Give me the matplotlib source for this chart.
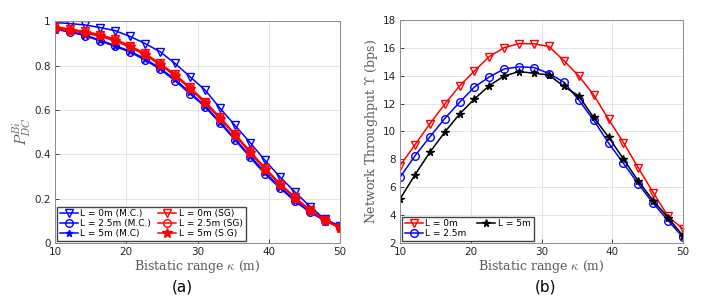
import numpy as np
import matplotlib
matplotlib.use("Agg")
import matplotlib.pyplot as plt
from matplotlib.ticker import FormatStrFormatter

plt.rcParams['mathtext.fontset'] = 'cm'

kappa = np.linspace(10, 50, 20)

# (a) detection probability
pdc_0_mc = [0.995, 0.99, 0.984, 0.972, 0.958, 0.932, 0.900, 0.863, 0.810, 0.750,
            0.690, 0.608, 0.530, 0.453, 0.372, 0.297, 0.229, 0.164, 0.106, 0.077]
pdc_25_mc = [0.965, 0.952, 0.935, 0.912, 0.887, 0.861, 0.826, 0.784, 0.732, 0.673,
             0.614, 0.540, 0.465, 0.386, 0.310, 0.247, 0.187, 0.138, 0.100, 0.072]
pdc_5_mc = [0.963, 0.955, 0.938, 0.916, 0.891, 0.866, 0.831, 0.789, 0.738, 0.679,
            0.619, 0.546, 0.470, 0.393, 0.318, 0.253, 0.191, 0.140, 0.100, 0.071]
pdc_0_sg = [0.977, 0.965, 0.955, 0.940, 0.920, 0.890, 0.855, 0.810, 0.761, 0.702,
            0.638, 0.567, 0.491, 0.414, 0.338, 0.268, 0.205, 0.149, 0.104, 0.069]
pdc_25_sg = [0.972, 0.962, 0.952, 0.937, 0.917, 0.887, 0.852, 0.807, 0.758, 0.699,
             0.635, 0.564, 0.489, 0.411, 0.335, 0.266, 0.203, 0.147, 0.102, 0.067]
pdc_5_sg = [0.966, 0.957, 0.947, 0.932, 0.912, 0.883, 0.848, 0.803, 0.754, 0.695,
            0.631, 0.560, 0.485, 0.407, 0.331, 0.263, 0.200, 0.145, 0.100, 0.066]

# (b) network throughput
thr_0 = [7.55, 9.03, 10.54, 11.95, 13.26, 14.34, 15.37, 16.01, 16.30, 16.28,
         16.09, 15.08, 13.98, 12.62, 10.87, 9.20, 7.38, 5.61, 3.90, 3.00]
thr_25 = [6.71, 8.24, 9.60, 10.92, 12.09, 13.19, 13.91, 14.48, 14.63, 14.58,
          14.15, 13.53, 12.26, 10.80, 9.17, 7.71, 6.23, 4.84, 3.60, 2.40]
thr_5 = [5.15, 6.88, 8.50, 9.94, 11.25, 12.33, 13.29, 13.98, 14.29, 14.17,
         14.05, 13.22, 12.55, 11.00, 9.60, 8.02, 6.44, 5.03, 3.81, 2.52]

blue = '#0000ff'
red = '#ff0000'
txt = '#262626'
lab = '#5a5a5a'

fig = plt.figure(figsize=(7.2, 3.01), dpi=100)
ax1 = fig.add_axes([0.0764, 0.193, 0.396, 0.736])
ax2 = fig.add_axes([0.5556, 0.193, 0.393, 0.741])

ms = 5.5
lw = 1.1
ax1.plot(kappa, pdc_0_mc, color=blue, lw=lw, marker='v', ms=ms, mfc='none', label='L = 0m (M.C.)')
ax1.plot(kappa, pdc_25_mc, color=blue, lw=lw, marker='o', ms=ms, mfc='none', label='L = 2.5m (M.C.)')
ax1.plot(kappa, pdc_5_mc, color=blue, lw=lw, marker='*', ms=ms - 0.5, label='L = 5m (M.C)')
ax1.plot(kappa, pdc_0_sg, color=red, lw=lw, marker='v', ms=ms, mfc='none', label='L = 0m (SG)')
ax1.plot(kappa, pdc_25_sg, color=red, lw=lw, marker='o', ms=ms, mfc='none', label='L = 2.5m (SG)')
ax1.plot(kappa, pdc_5_sg, color=red, lw=lw, marker='*', ms=ms + 1.5, label='L = 5m (S.G)')
ax1.set_xlim(10, 50)
ax1.set_ylim(0, 1)
ax1.set_xticks([10, 20, 30, 40, 50])
ax1.set_yticks([0, 0.2, 0.4, 0.6, 0.8, 1])
ax1.yaxis.set_major_formatter(FormatStrFormatter('%g'))
ax1.set_ylabel(r'$P_{DC}^{Bi}$', fontsize=11, color=lab, labelpad=1)
ax1.set_xlabel(r'Bistatic range $\kappa$ (m)', fontsize=9, color=lab, family='DejaVu Serif', labelpad=1)
ax1.legend(loc='lower left', ncol=2, fontsize=6.5, handlelength=2.0, handletextpad=0.3,
           columnspacing=0.8, labelspacing=0.12, borderpad=0.3, borderaxespad=0.2,
           fancybox=False, framealpha=1, edgecolor='#444444')

ax2.plot(kappa, thr_0, color=red, lw=lw, marker='v', ms=ms, mfc='none', label='L = 0m')
ax2.plot(kappa, thr_25, color=blue, lw=lw, marker='o', ms=ms, mfc='none', label='L = 2.5m')
ax2.plot(kappa, thr_5, color='black', lw=lw, marker='*', ms=ms, label='L = 5m')
ax2.set_xlim(10, 50)
ax2.set_ylim(2, 18)
ax2.set_xticks([10, 20, 30, 40, 50])
ax2.set_yticks(range(2, 19, 2))
ax2.set_ylabel(r'Network Throughput $\Upsilon$ (bps)', fontsize=9, color=lab, family='DejaVu Serif', labelpad=2)
ax2.set_xlabel(r'Bistatic range $\kappa$ (m)', fontsize=9, color=lab, family='DejaVu Serif', labelpad=1)
ax2.legend(loc='lower left', ncol=2, fontsize=6.5, handlelength=2.0, handletextpad=0.3,
           columnspacing=1.2, labelspacing=0.12, borderpad=0.3, borderaxespad=0.2,
           fancybox=False, framealpha=1, edgecolor='#444444')

for ax in (ax1, ax2):
    ax.grid(True, color='#e0e0e0', lw=0.6)
    ax.set_axisbelow(True)
    ax.tick_params(direction='in', length=3, width=0.6, labelsize=7.5, colors=txt, pad=3)
    for s in ax.spines.values():
        s.set_color('#8c8c8c')
        s.set_linewidth(0.7)

fig.text(0.253, 0.045, '(a)', fontsize=11, ha='center', va='center', color='black')
fig.text(0.757, 0.045, '(b)', fontsize=11, ha='center', va='center', color='black')

fig.savefig('out.png', dpi=100)
